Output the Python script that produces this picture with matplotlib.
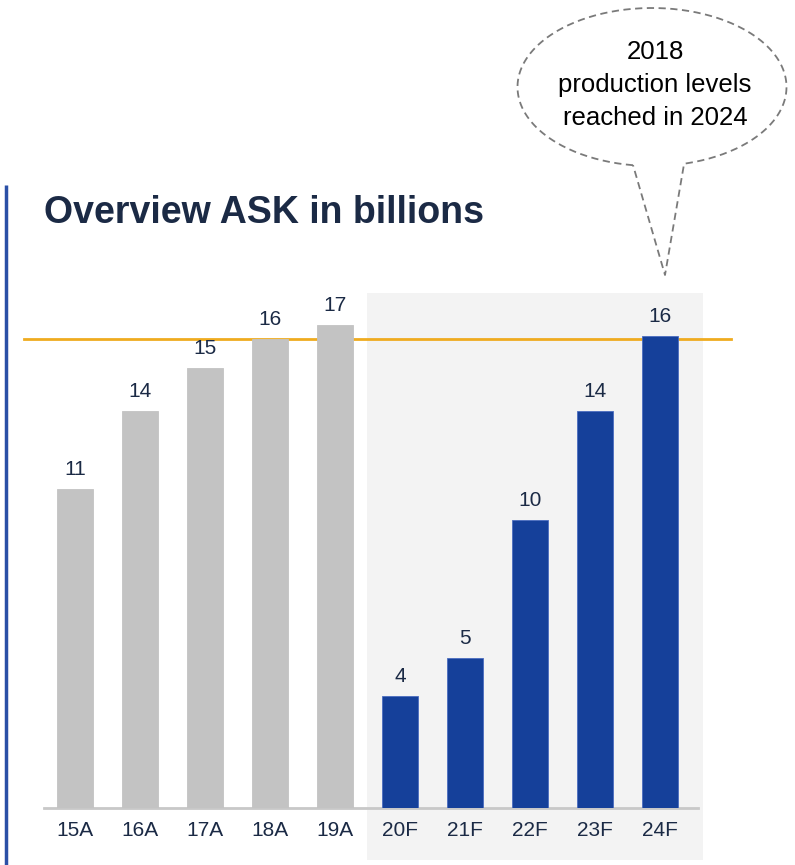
import numpy as np
import matplotlib
matplotlib.use("Agg")
import matplotlib.pyplot as plt

plt.rcParams['font.family'] = ['Liberation Sans', 'DejaVu Sans']

# data (ASK in billions)
categories = ["15A", "16A", "17A", "18A", "19A", "20F", "21F", "22F", "23F", "24F"]
values = [11.1, 13.8, 15.3, 16.3, 16.8, 3.9, 5.2, 10.0, 13.8, 16.4]
is_forecast = [False] * 5 + [True] * 5
ref_year_idx = 3  # 2018 level -> orange reference line

GREY = "#c3c3c3"
BLUE = "#15409a"
NAVY = "#1b2a45"
ORANGE = "#efab1f"

W, H = 795, 865
fig = plt.figure(figsize=(W / 100, H / 100), dpi=100)

# overlay in pixel coords for decorations
ov = fig.add_axes([0, 0, 1, 1], zorder=0)
ov.set_xlim(0, W)
ov.set_ylim(H, 0)
ov.axis("off")

# left accent line
ov.plot([6, 6], [185, H], color="#2b50a6", lw=2.5, solid_capstyle="butt")

# shaded forecast region
ov.add_patch(plt.Rectangle((367, 293), 703 - 367, 860 - 293,
                           facecolor="#f3f3f3", edgecolor="none"))

# title
ov.text(44, 213, "Overview ASK in billions", fontsize=27, fontweight="bold",
        color=NAVY, ha="left", va="center")

# speech bubble: ellipse outline with a tail pointing at the 24F bar
cx, cy, a, b = 652, 87, 134.5, 79
t = np.radians(np.linspace(98.1, 76.2 + 360, 300))
px = list(cx + a * np.cos(t)) + [665, cx + a * np.cos(t[0])]
py = list(cy + b * np.sin(t)) + [275, cy + b * np.sin(t[0])]
ov.plot(px, py, color="#7a7a7a", lw=1.3, ls=(0, (4, 2.5)))
ov.text(655, 85, "2018\nproduction levels\nreached in 2024", fontsize=18.5,
        color="black", ha="center", va="center", linespacing=1.45)

# main chart
ax = fig.add_axes([44 / W, 1 - 808 / H, (698 - 44) / W, (808 - 293) / H], zorder=1)
ax.patch.set_alpha(0)
x = np.arange(len(categories))
colors = [BLUE if f else GREY for f in is_forecast]
ax.bar(x, values, width=0.56, color=colors, zorder=3,
       edgecolor=["#4a6cc0" if f else GREY for f in is_forecast], linewidth=0.6)
for xi, v in zip(x, values):
    ax.text(xi, v + 0.35, f"{v:.0f}", ha="center", va="bottom",
            fontsize=15, color=NAVY)

ax.axhline(values[ref_year_idx], xmin=-0.03, xmax=1.05, color=ORANGE, lw=2,
           zorder=2, clip_on=False)

ax.set_xlim(-0.48, 9.58)
ax.set_ylim(0, 17.9)
ax.set_xticks(x)
ax.set_xticklabels(categories, fontsize=15, color=NAVY)
ax.tick_params(axis="x", length=0, pad=9)
ax.set_yticks([])
for s in ["top", "right", "left"]:
    ax.spines[s].set_visible(False)
ax.spines["bottom"].set_color("#c8c8c8")
ax.spines["bottom"].set_linewidth(2)

fig.savefig("out.png", dpi=100)
